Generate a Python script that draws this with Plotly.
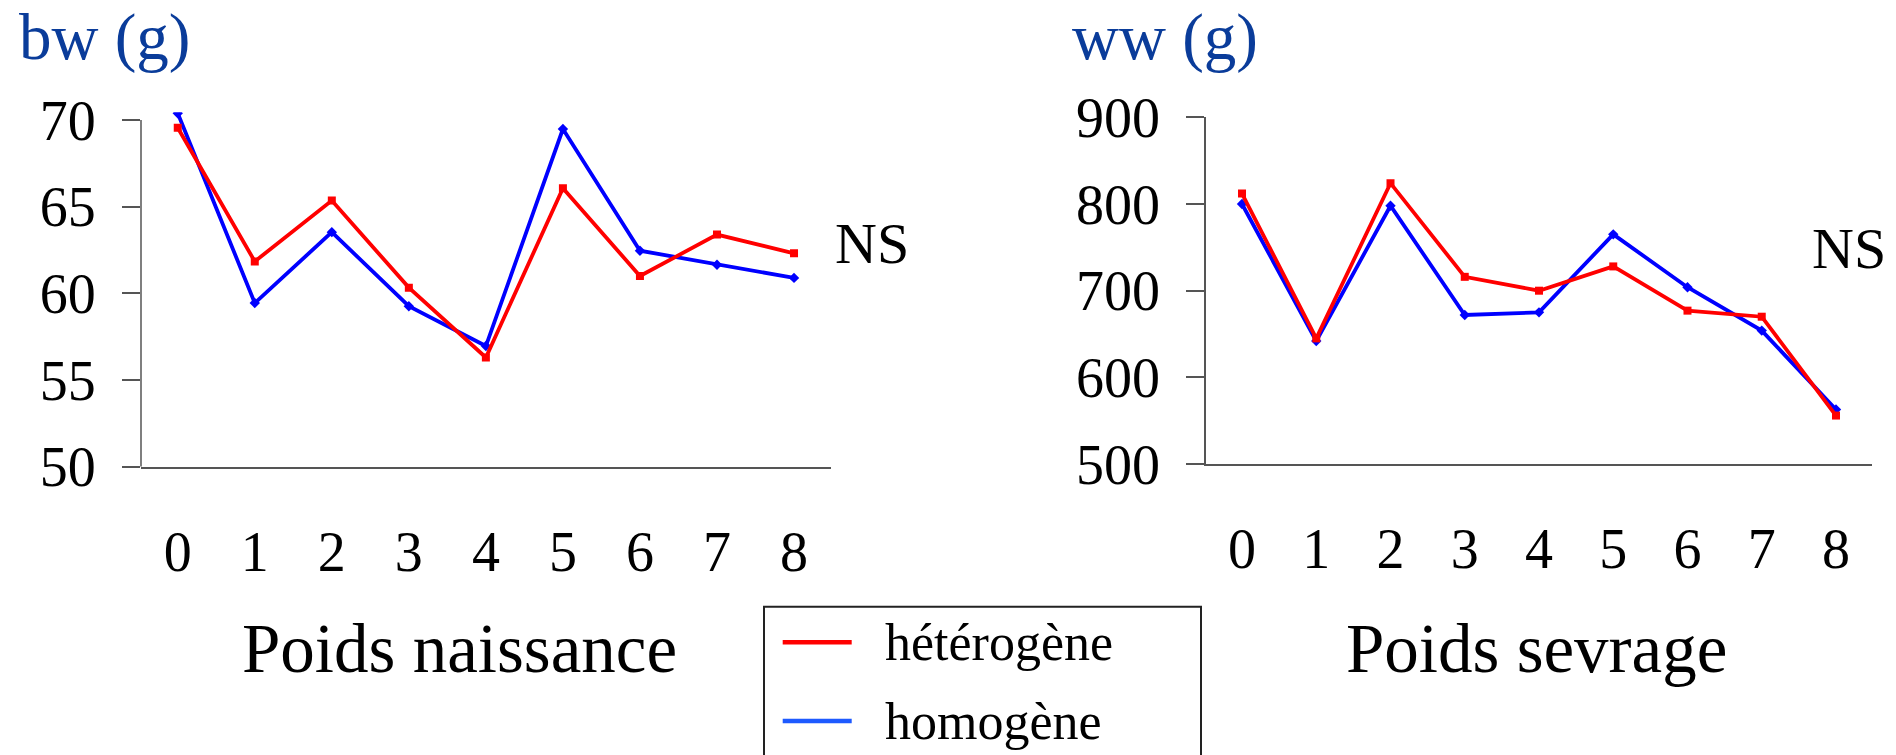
import plotly.graph_objects as go

W, H = 1896, 755

# ---- data ----
categories = [0, 1, 2, 3, 4, 5, 6, 7, 8]
tick_labels = ["0", "1", "2", "3", "4", "5", "6", "7", "8"]
series_names = ["hétérogène", "homogène"]

bw_hetero = [69.55, 61.84, 65.35, 60.33, 56.30, 66.07, 61.00, 63.39, 62.31]
bw_homo = [70.39, 59.44, 63.53, 59.26, 56.96, 69.48, 62.46, 61.65, 60.89]
ww_hetero = [812, 645, 824, 716, 700, 728, 677, 670, 556]
ww_homo = [800, 642, 798, 672, 675, 765, 704, 654, 563]

bw_ticks = [50, 55, 60, 65, 70]
ww_ticks = [500, 600, 700, 800, 900]

# ---- styles ----
FONT = "Liberation Serif, Times New Roman, serif"
RED = "#FF0000"
BLUE = "#0000FF"
LEG_BLUE = "#1E5AFF"
TITLE_BLUE = "#0A3C9A"
AX = "#555555"


def px(x):
    return x / W


def py(y):
    return 1 - y / H


fig = go.Figure()

panels = [("x", "y", bw_homo, bw_hetero), ("x2", "y2", ww_homo, ww_hetero)]
for xa, ya, homo, hetero in panels:
    fig.add_trace(go.Scatter(
        x=categories, y=homo, xaxis=xa, yaxis=ya, mode="lines+markers",
        name=series_names[1], line=dict(color=BLUE, width=3.8),
        marker=dict(symbol="diamond", size=8, color=BLUE), showlegend=False))
    fig.add_trace(go.Scatter(
        x=categories, y=hetero, xaxis=xa, yaxis=ya, mode="lines+markers",
        name=series_names[0], line=dict(color=RED, width=3.8),
        marker=dict(symbol="square", size=8, color=RED), showlegend=False))

xcommon = dict(showline=True, linecolor=AX, linewidth=1.5, ticks="",
               tickvals=categories, ticktext=tick_labels,
               tickfont=dict(family=FONT, size=56, color="black"),
               ticklabelstandoff=35, showgrid=False, zeroline=False, fixedrange=True)
ycommon = dict(ticks="outside", ticklen=18, tickwidth=1.5, tickcolor=AX,
               tickfont=dict(family=FONT, size=56, color="black"),
               ticklabelstandoff=15, showgrid=False, zeroline=False, fixedrange=True)

fig.update_layout(
    width=W, height=H,
    margin=dict(l=0, r=0, t=0, b=0),
    template="none",
    paper_bgcolor="white", plot_bgcolor="white",
    showlegend=False,
    xaxis=dict(domain=[px(141), px(831)], range=[-0.477, 8.48], anchor="y", **xcommon),
    yaxis=dict(domain=[py(466.7), py(112.2)], range=[50, 70.45], tickvals=bw_ticks,
               showline=False, anchor="x", **ycommon),
    xaxis2=dict(domain=[px(1206), px(1872)], range=[-0.485, 8.485], anchor="y2", **xcommon),
    yaxis2=dict(domain=[py(464.1), py(117.3)], range=[500, 900], tickvals=ww_ticks,
                showline=True, linecolor=AX, linewidth=1.5, anchor="x2", **ycommon),
)

# left y-axis line only spans 50..70 (the blue line pokes above it)
fig.add_shape(type="line", xref="x domain", yref="y", x0=0, x1=0,
              y0=bw_ticks[0], y1=bw_ticks[-1], line=dict(color=AX, width=1.5))

# ---- texts ----
def ann(text, x, y, size, color="black", xanchor="left", yanchor="middle"):
    fig.add_annotation(text=text, x=px(x), y=py(y), xref="paper", yref="paper",
                       xanchor=xanchor, yanchor=yanchor, showarrow=False, borderpad=0,
                       font=dict(family=FONT, size=size, color=color))

ann("bw (g)", 18, 0, 65, TITLE_BLUE, yanchor="top")
ann("ww (g)", 1071, 0, 65, TITLE_BLUE, yanchor="top")
ann("NS", 834, 243, 58)
ann("NS", 1811, 248, 58)
ann("Poids naissance", 459.5, 649, 69, xanchor="center")
ann("Poids sevrage", 1536.7, 649, 69, xanchor="center")

# ---- legend box ----
fig.add_shape(type="rect", xref="paper", yref="paper",
              x0=px(764), x1=px(1201), y0=py(790), y1=py(606.7),
              line=dict(color="#222222", width=2), fillcolor="rgba(0,0,0,0)")
for name, color, yc in [(series_names[0], RED, 642.3), (series_names[1], LEG_BLUE, 721)]:
    fig.add_shape(type="line", xref="paper", yref="paper",
                  x0=px(782.7), x1=px(851.7), y0=py(yc), y1=py(yc),
                  line=dict(color=color, width=4.5))
    ann(name, 884, yc, 52)

fig.write_html("out.html", config={"displayModeBar": False},
               post_script="document.body.style.margin='0';document.body.style.overflow='hidden';")
